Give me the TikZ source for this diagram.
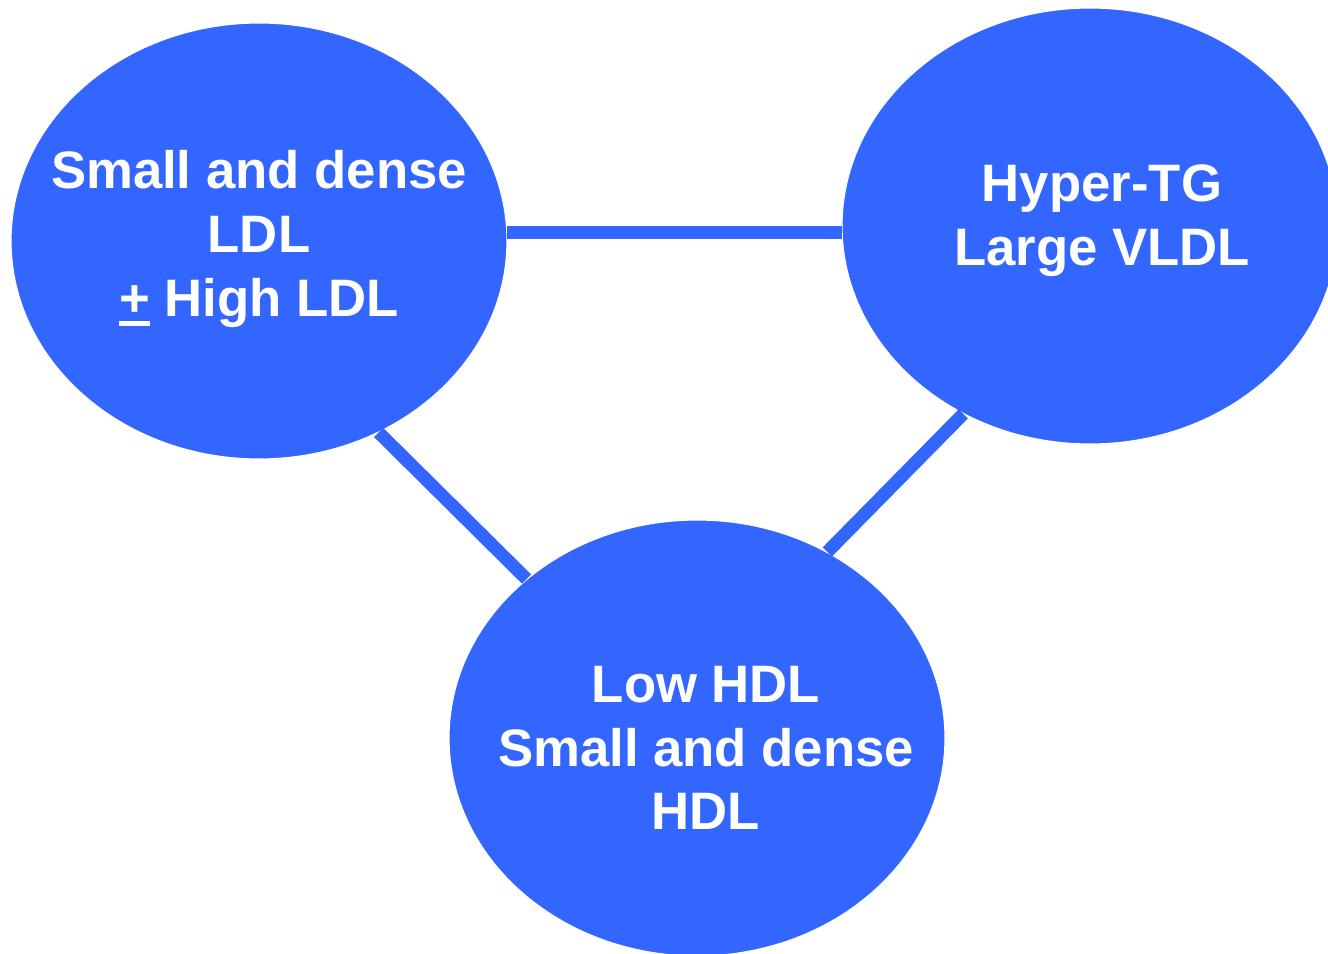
\documentclass[tikz,border=0pt]{standalone}
\usepackage{fontspec}
\setmainfont{Liberation Sans}
\usepackage{xcolor}
\usepackage{tikz}
\usetikzlibrary{shapes.geometric}
\definecolor{lipidblue}{RGB}{51,102,255}
\newcommand{\ulplus}{\rlap{\rule[-0.19em]{0.584em}{0.11em}}+}

\begin{document}
\begin{tikzpicture}[x=0.02cm, y=-0.02cm,
	lipid/.style={ellipse, minimum width=9.92cm, minimum height=8.72cm, inner sep=0pt, fill=lipidblue, draw=white, line width=0.6pt},
	caption/.style={align=center, inner sep=0pt, text=white, font=\fontsize{30}{36.3}\selectfont\bfseries},
	link/.style={draw=lipidblue, line width=7.4pt}]
	\useasboundingbox (0,0) rectangle (1328,953);
	\fill[white] (0,0) rectangle (1328,953);
	\clip (0,0) rectangle (1328,953);
	\node[lipid] at (259,241)(ellipse1){};
	\node[lipid] at (1090,226)(ellipse2){};
	\node[lipid] at (697,738)(ellipse3){};
	\node[caption] at (259,239)(text1){Small and dense\\LDL\\\ulplus{} High LDL};
	\node[caption] at (1102,221)(text2){Hyper-TG\\Large VLDL};
	\node[caption] at (706,748)(text3){Low HDL\\Small and dense\\HDL};
	\draw[link](ellipse1.2) -- (ellipse1.2 -| ellipse2.west);
	\draw[link](ellipse1.-58.7) -- (ellipse3.137.5);
	\draw[link](ellipse2.236.4) -- (ellipse3.55.4);
\end{tikzpicture}
\end{document}
